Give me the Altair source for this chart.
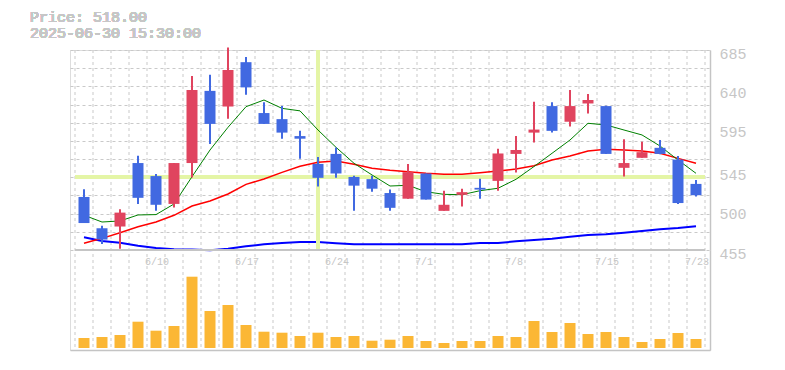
import altair as alt
import pandas as pd
import numpy as np

# ---------------- data ----------------
dates = ["6/4", "6/5", "6/6", "6/9", "6/10", "6/11", "6/12", "6/13", "6/16", "6/17",
         "6/18", "6/19", "6/20", "6/23", "6/24", "6/25", "6/26", "6/27", "6/30", "7/1",
         "7/2", "7/3", "7/4", "7/7", "7/8", "7/9", "7/10", "7/11", "7/14", "7/15",
         "7/16", "7/17", "7/18", "7/22", "7/23"]
open_ = [516, 480, 482, 555, 540, 508, 555, 638, 620, 671,
         612.5, 605.5, 586, 554, 565.5, 539, 536.5, 520.5, 514, 543,
         500, 518.5, 526.5, 534.5, 565.5, 590, 620.5, 602.5, 623.5, 620.5,
         549.5, 561, 572.5, 559, 531]
close = [486, 467, 498, 515, 507, 555, 639, 600, 662, 642,
         600, 590, 583, 538, 543, 529, 525.5, 503.5, 544.5, 513,
         507, 521.5, 524.5, 566, 570, 593.5, 592, 620.5, 627.5, 565.5,
         555, 567.5, 565.5, 509, 518]
high = [525, 483, 502, 563.5, 542.5, 555, 655, 656.5, 688, 677,
        625, 620.5, 592, 562, 573, 540.5, 540.5, 524.5, 554, 543,
        523, 525.5, 537, 571.5, 586, 625.5, 625, 639, 634.5, 621,
        582.5, 579.5, 581.5, 563, 535.5]
low = [486, 462, 456.5, 508, 500, 504, 538.5, 577, 606, 633.5,
       600, 583, 560, 528, 538, 500, 522, 500, 514, 513,
       500, 505, 514, 523, 544, 578.5, 590, 597, 612, 565.5,
       539.5, 561, 565, 508, 516.5]
volume = [100, 110, 130, 263, 173, 220, 713, 370, 430, 230,
          163, 153, 120, 153, 110, 120, 73, 83, 120, 70,
          50, 70, 70, 120, 110, 270, 160, 250, 140, 160,
          110, 60, 90, 150, 90]
ma_short = [495, 487.2, 488.4, 495.3, 495.7, 507.9, 539.3, 570, 596.1, 619.8,
            627.5, 617.9, 615, 593, 573.1, 554.7, 541.3, 528.6, 529.4, 522,
            519, 518.6, 523.2, 526, 536.3, 551, 566.2, 581.5, 600.7, 598.8,
            593, 587.3, 574.6, 558.5, 543.2]
ma_mid = [462.7, 468.4, 474.9, 481.8, 487.2, 494.9, 505.6, 511.4, 519.4, 530.5,
          536.7, 544.3, 551.2, 555.8, 557.4, 553.5, 549, 546.6, 545, 543.2,
          542, 542, 543.9, 545.8, 548.2, 552, 558.5, 563.1, 568.9, 570.8,
          570, 568.9, 566.2, 560.4, 554.7]
ma_long = [469.6, 465.4, 463.4, 460, 457.3, 455.8, 455.6, 454.6, 456.5, 459.2,
           461.5, 463, 464.2, 464.2, 462.7, 461.5, 461.5, 461.5, 461.5, 461.5,
           461.5, 461.5, 463, 463, 465, 466.5, 468, 470.3, 472.3, 473.1,
           474.9, 476.9, 478.8, 480.3, 482.3]
date_labels = ["6/10", "6/17", "6/24", "7/1", "7/8", "7/15", "7/23"]
price_labels = [455, 500, 545, 595, 640, 685]
title_lines = ["Price: 518.00", "2025-06-30 15:30:00"]
cross_index = 13
cross_price = 538.6

# ---------------- frames ----------------
n = len(dates)
df = pd.DataFrame({
    "idx": np.arange(n), "date": dates, "open": open_, "close": close,
    "high": high, "low": low, "vol": volume,
    "ma_s": ma_short, "ma_m": ma_mid, "ma_l": ma_long,
})
df["dir"] = np.where(df["close"] >= df["open"], "up", "down")
df["label"] = [d if d in date_labels else "" for d in dates]
grid_df = pd.DataFrame({"gx": [i - 0.5 for i in range(n + 1)]})

GRID = "#c9c9c9"
AXIS = "#c4c4c4"
TXT = "#c6c6c6"
MONO = "Liberation Mono"

price_scale = alt.Scale(domain=[455, 685], range=[200, 0], nice=False, zero=False)
x_scale = alt.Scale(domain=[-0.5, n - 0.5], nice=False, zero=False)
y_grid_vals = [455 + 230 / 11 * k for k in range(12)]

x_axis = alt.Axis(grid=False, labels=False, ticks=False, domain=True, domainColor=AXIS,
                  domainWidth=1.5, title=None)
X = alt.X("idx:Q", scale=x_scale, axis=x_axis)


def xd(v):
    return alt.X(datum=v, scale=x_scale, axis=x_axis)


base = alt.Chart(df)

# vertical dashed gridlines at candle boundaries, spanning both panels
vgrid = alt.Chart(grid_df).mark_rule(color=GRID, strokeDash=[3, 3], strokeWidth=1).encode(
    x=alt.X("gx:Q", scale=x_scale, axis=x_axis),
    y=alt.value(0), y2=alt.value(300),
)

# grid-only left axis carried by the long MA line
ma_long_l = base.mark_line(color="#0000ff", strokeWidth=2, clip=True).encode(
    x=X,
    y=alt.Y("ma_l:Q", scale=price_scale,
            axis=alt.Axis(orient="left", values=y_grid_vals, grid=True, gridColor=GRID,
                          gridDash=[3, 3], labels=False, ticks=False, domain=False,
                          title=None)),
)

cross_v = base.mark_rule(color="#e4f5a6", strokeWidth=3.5).encode(
    x=xd(cross_index),
    y=alt.Y(datum=685, scale=price_scale, axis=None),
    y2=alt.datum(455),
)
cross_h = base.mark_rule(color="#e4f5a6", strokeWidth=3.5).encode(
    y=alt.Y(datum=cross_price, scale=price_scale, axis=None),
    x=xd(-0.5),
    x2=alt.datum(n - 0.5),
)
mid_line = base.mark_rule(color=AXIS, strokeWidth=1.5).encode(
    y=alt.Y(datum=455, scale=price_scale, axis=None),
    x=xd(-0.5),
    x2=alt.datum(n - 0.5),
)

ma_mid_l = base.mark_line(color="#ff0000", strokeWidth=1.5, clip=True).encode(
    x=X, y=alt.Y("ma_m:Q", scale=price_scale, axis=None))
ma_short_l = base.mark_line(color="#008000", strokeWidth=1, clip=True).encode(
    x=X, y=alt.Y("ma_s:Q", scale=price_scale, axis=None))

color = alt.Color("dir:N", scale=alt.Scale(domain=["up", "down"], range=["#e0445f", "#4169e1"]),
                  legend=None)
wick = base.mark_rule(strokeWidth=2).encode(
    x=X, y=alt.Y("low:Q", scale=price_scale, axis=None), y2="high:Q", color=color)
body = base.mark_bar(size=11).encode(
    x=X,
    y=alt.Y("open:Q", scale=price_scale,
            axis=alt.Axis(orient="right", values=price_labels, grid=False, ticks=False,
                          domain=True, domainColor=AXIS, domainWidth=1.5,
                          labelFont=MONO, labelFontSize=15, labelColor=TXT,
                          labelPadding=9, labelOffset=3, title=None)),
    y2="close:Q", color=color)

date_txt = base.transform_filter("datum.label != ''").mark_text(
    align="left", baseline="middle", dx=-11, font=MONO, fontSize=10, color=TXT
).encode(x=X, y=alt.value(212), text="label:N")

titles = alt.layer(*[
    base.mark_text(align="left", baseline="middle", font=MONO, fontSize=15, color=TXT).encode(
        x=alt.value(-40), y=alt.value(-33 + 16 * i), text=alt.value(t))
    for i, t in enumerate(title_lines)
])

price = alt.layer(ma_long_l, cross_v, cross_h, mid_line, ma_mid_l, ma_short_l,
                  wick, body, date_txt, titles).resolve_axis(y="independent")

vol = base.mark_bar(size=11, color="#fbb735").encode(
    x=X,
    y=alt.Y("vol:Q", scale=alt.Scale(domain=[-20, 980], range=[300, 200], nice=False, zero=False),
            axis=alt.Axis(orient="right", labels=False, ticks=False, grid=False,
                          domain=True, domainColor=AXIS, domainWidth=1.5, title=None)),
    y2=alt.datum(0),
)

chart = alt.layer(vgrid, price, vol).resolve_scale(y="independent").properties(
    width=640, height=300,
    padding={"left": 22, "top": 2, "right": 5, "bottom": 5},
).configure_view(stroke=None).configure(background="white")

chart.save("out.html", embed_options={"renderer": "svg", "actions": False})
